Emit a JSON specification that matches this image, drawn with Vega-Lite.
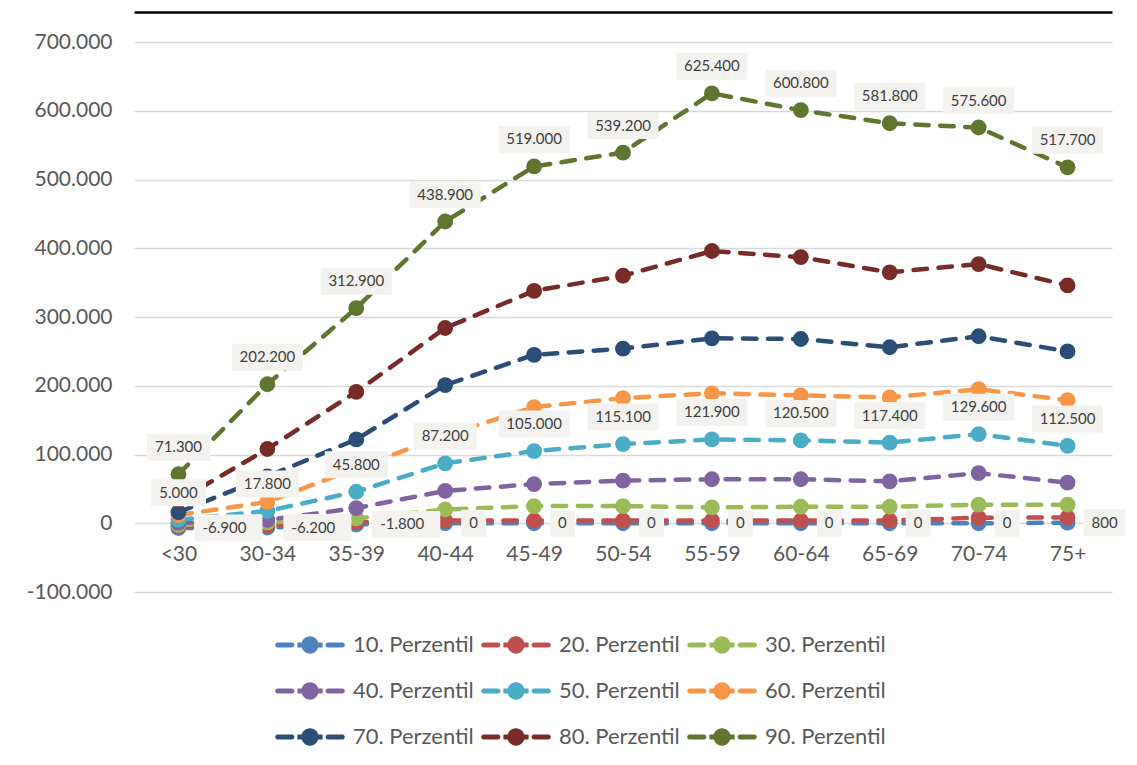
{
  "$schema": "https://vega.github.io/schema/vega-lite/v6.json",
  "autosize": "none",
  "width": 978,
  "height": 550,
  "padding": {"left": 134, "top": 42, "right": 25, "bottom": 173},
  "background": "#ffffff",
  "config": {
    "locale": {"number": {"decimal": ",", "thousands": ".", "grouping": [3], "currency": ["", " €"], "minus": "-"}},
    "font": "Lato",
    "view": {"stroke": null}
  },
  "resolve": {"axis": {"x": "independent"}},
  "data": {"values": [
    {"a":"<30","p":"10. Perzentil","v":-6900},{"a":"30-34","p":"10. Perzentil","v":-6200},{"a":"35-39","p":"10. Perzentil","v":-1800},{"a":"40-44","p":"10. Perzentil","v":0},{"a":"45-49","p":"10. Perzentil","v":0},{"a":"50-54","p":"10. Perzentil","v":0},{"a":"55-59","p":"10. Perzentil","v":0},{"a":"60-64","p":"10. Perzentil","v":0},{"a":"65-69","p":"10. Perzentil","v":0},{"a":"70-74","p":"10. Perzentil","v":0},{"a":"75+","p":"10. Perzentil","v":800},
    {"a":"<30","p":"20. Perzentil","v":-4500},{"a":"30-34","p":"20. Perzentil","v":-3000},{"a":"35-39","p":"20. Perzentil","v":1500},{"a":"40-44","p":"20. Perzentil","v":4000},{"a":"45-49","p":"20. Perzentil","v":4000},{"a":"50-54","p":"20. Perzentil","v":4000},{"a":"55-59","p":"20. Perzentil","v":4000},{"a":"60-64","p":"20. Perzentil","v":4000},{"a":"65-69","p":"20. Perzentil","v":4000},{"a":"70-74","p":"20. Perzentil","v":8000},{"a":"75+","p":"20. Perzentil","v":8500},
    {"a":"<30","p":"30. Perzentil","v":-2500},{"a":"30-34","p":"30. Perzentil","v":1000},{"a":"35-39","p":"30. Perzentil","v":7000},{"a":"40-44","p":"30. Perzentil","v":20000},{"a":"45-49","p":"30. Perzentil","v":25000},{"a":"50-54","p":"30. Perzentil","v":25000},{"a":"55-59","p":"30. Perzentil","v":23000},{"a":"60-64","p":"30. Perzentil","v":24000},{"a":"65-69","p":"30. Perzentil","v":24000},{"a":"70-74","p":"30. Perzentil","v":27000},{"a":"75+","p":"30. Perzentil","v":27000},
    {"a":"<30","p":"40. Perzentil","v":500},{"a":"30-34","p":"40. Perzentil","v":5000},{"a":"35-39","p":"40. Perzentil","v":22000},{"a":"40-44","p":"40. Perzentil","v":47000},{"a":"45-49","p":"40. Perzentil","v":57000},{"a":"50-54","p":"40. Perzentil","v":62000},{"a":"55-59","p":"40. Perzentil","v":64000},{"a":"60-64","p":"40. Perzentil","v":64000},{"a":"65-69","p":"40. Perzentil","v":61000},{"a":"70-74","p":"40. Perzentil","v":73000},{"a":"75+","p":"40. Perzentil","v":59000},
    {"a":"<30","p":"50. Perzentil","v":5000},{"a":"30-34","p":"50. Perzentil","v":17800},{"a":"35-39","p":"50. Perzentil","v":45800},{"a":"40-44","p":"50. Perzentil","v":87200},{"a":"45-49","p":"50. Perzentil","v":105000},{"a":"50-54","p":"50. Perzentil","v":115100},{"a":"55-59","p":"50. Perzentil","v":121900},{"a":"60-64","p":"50. Perzentil","v":120500},{"a":"65-69","p":"50. Perzentil","v":117400},{"a":"70-74","p":"50. Perzentil","v":129600},{"a":"75+","p":"50. Perzentil","v":112500},
    {"a":"<30","p":"60. Perzentil","v":12000},{"a":"30-34","p":"60. Perzentil","v":31000},{"a":"35-39","p":"60. Perzentil","v":80000},{"a":"40-44","p":"60. Perzentil","v":128000},{"a":"45-49","p":"60. Perzentil","v":169000},{"a":"50-54","p":"60. Perzentil","v":182000},{"a":"55-59","p":"60. Perzentil","v":189000},{"a":"60-64","p":"60. Perzentil","v":186000},{"a":"65-69","p":"60. Perzentil","v":183000},{"a":"70-74","p":"60. Perzentil","v":195000},{"a":"75+","p":"60. Perzentil","v":179000},
    {"a":"<30","p":"70. Perzentil","v":16000},{"a":"30-34","p":"70. Perzentil","v":68000},{"a":"35-39","p":"70. Perzentil","v":122000},{"a":"40-44","p":"70. Perzentil","v":201000},{"a":"45-49","p":"70. Perzentil","v":245000},{"a":"50-54","p":"70. Perzentil","v":254000},{"a":"55-59","p":"70. Perzentil","v":269000},{"a":"60-64","p":"70. Perzentil","v":268000},{"a":"65-69","p":"70. Perzentil","v":256000},{"a":"70-74","p":"70. Perzentil","v":272000},{"a":"75+","p":"70. Perzentil","v":250000},
    {"a":"<30","p":"80. Perzentil","v":33000},{"a":"30-34","p":"80. Perzentil","v":108000},{"a":"35-39","p":"80. Perzentil","v":191000},{"a":"40-44","p":"80. Perzentil","v":284000},{"a":"45-49","p":"80. Perzentil","v":338000},{"a":"50-54","p":"80. Perzentil","v":360000},{"a":"55-59","p":"80. Perzentil","v":396000},{"a":"60-64","p":"80. Perzentil","v":387000},{"a":"65-69","p":"80. Perzentil","v":365000},{"a":"70-74","p":"80. Perzentil","v":377000},{"a":"75+","p":"80. Perzentil","v":346000},
    {"a":"<30","p":"90. Perzentil","v":71300},{"a":"30-34","p":"90. Perzentil","v":202200},{"a":"35-39","p":"90. Perzentil","v":312900},{"a":"40-44","p":"90. Perzentil","v":438900},{"a":"45-49","p":"90. Perzentil","v":519000},{"a":"50-54","p":"90. Perzentil","v":539200},{"a":"55-59","p":"90. Perzentil","v":625400},{"a":"60-64","p":"90. Perzentil","v":600800},{"a":"65-69","p":"90. Perzentil","v":581800},{"a":"70-74","p":"90. Perzentil","v":575600},{"a":"75+","p":"90. Perzentil","v":517700}
  ]},
  "encoding": {
    "x": {
      "field": "a", "type": "nominal",
      "scale": {"type": "point", "padding": 0.5, "domain": ["<30","30-34","35-39","40-44","45-49","50-54","55-59","60-64","65-69","70-74","75+"]},
      "axis": null
    },
    "y": {
      "field": "v", "type": "quantitative",
      "scale": {"domain": [-100000, 700000], "nice": false, "zero": false},
      "axis": {"title": null, "values": [-100000,0,100000,200000,300000,400000,500000,600000,700000], "format": ",.0f", "domain": false, "ticks": false, "grid": true, "gridColor": "#D9D9D9", "gridWidth": 1.5, "labelPadding": 22, "labelFont": "Lato", "labelFontSize": 21, "labelColor": "#595959"}
    },
    "color": {"field": "p", "type": "nominal",
      "scale": {"domain": ["10. Perzentil","20. Perzentil","30. Perzentil","40. Perzentil","50. Perzentil","60. Perzentil","70. Perzentil","80. Perzentil","90. Perzentil"],
                "range": ["#4F81BD","#C0504D","#9BBB59","#8064A2","#4BACC6","#F79646","#2C4D75","#772C2A","#5F7530"]},
      "legend": {
        "title": null, "orient": "none", "direction": "horizontal", "legendX": 164, "legendY": 591, "columns": 3,
        "columnPadding": 7, "rowPadding": 23, "labelOffset": 31,
        "labelFont": "Lato", "labelFontSize": 22, "labelColor": "#595959",
        "symbolSize": 576, "symbolStrokeWidth": 0, "symbolOpacity": 1,
        "symbolType": "M-2.7,-0.2H-1.5A0.2,0.2 0 0 1 -1.5,0.2H-2.7A0.2,0.2 0 0 1 -2.7,-0.2Z M0.72,0A0.72,0.72 0 1 1 -0.72,0A0.72,0.72 0 1 1 0.72,0Z M-1.05,-0.2H1.05V0.2H-1.05Z M1.5,-0.2H2.7A0.2,0.2 0 0 1 2.7,0.2H1.5A0.2,0.2 0 0 1 1.5,-0.2Z",
        "encode": {"symbols": {"update": {
          "shape": {"value": "M-2.7,-0.2H-1.5A0.2,0.2 0 0 1 -1.5,0.2H-2.7A0.2,0.2 0 0 1 -2.7,-0.2Z M0.72,0A0.72,0.72 0 1 1 -0.72,0A0.72,0.72 0 1 1 0.72,0Z M-1.05,-0.2H1.05V0.2H-1.05Z M1.5,-0.2H2.7A0.2,0.2 0 0 1 2.7,0.2H1.5A0.2,0.2 0 0 1 1.5,-0.2Z"},
          "size": {"value": 576},
          "fill": {"scale": "color", "field": "value"},
          "stroke": {"value": "transparent"},
          "strokeWidth": {"value": 0},
          "strokeDash": {"value": []},
          "opacity": {"value": 1}
        }}}
      }
    }
  },
  "layer": [
    {
      "mark": {"type": "line", "strokeWidth": 4.5, "strokeDash": [13.5, 11.5], "strokeCap": "round"},
      "encoding": {
        "x": {
          "field": "a", "type": "nominal",
          "axis": {"title": null, "orient": "bottom", "offset": -68.75, "domain": false, "ticks": false, "grid": false, "labelAngle": 0, "labelPadding": 20, "labelFont": "Lato", "labelFontSize": 21, "labelFontWeight": "normal", "labelColor": "#595959"}
        }
      }
    },
    {
      "mark": {"type": "point", "filled": true, "size": 250, "shape": "circle", "opacity": 1, "strokeWidth": 0}
    },
    {
      "transform": [{"filter": "(datum.p == '90. Perzentil' || datum.p == '50. Perzentil') && datum.v >= 100000"}],
      "mark": {"type": "point", "filled": true, "opacity": 1, "strokeWidth": 0, "size": 400, "shape": "M-3.55,-4.05H3.55V-1.35H-3.55Z"},
      "encoding": {"color": {"value": "#F3F2EE"}}
    },
    {
      "transform": [{"filter": "(datum.p == '90. Perzentil' || datum.p == '50. Perzentil') && datum.v >= 10000 && datum.v < 100000"}],
      "mark": {"type": "point", "filled": true, "opacity": 1, "strokeWidth": 0, "size": 400, "shape": "M-3.15,-4.05H3.15V-1.35H-3.15Z"},
      "encoding": {"color": {"value": "#F3F2EE"}}
    },
    {
      "transform": [{"filter": "(datum.p == '90. Perzentil' || datum.p == '50. Perzentil') && datum.v < 10000"}],
      "mark": {"type": "point", "filled": true, "opacity": 1, "strokeWidth": 0, "size": 400, "shape": "M-2.75,-4.05H2.75V-1.35H-2.75Z"},
      "encoding": {"color": {"value": "#F3F2EE"}}
    },
    {
      "transform": [{"filter": "datum.p == '10. Perzentil' && datum.v < 0"}],
      "mark": {"type": "point", "filled": true, "opacity": 1, "strokeWidth": 0, "size": 400, "shape": "M1.6,-1.35H8.4V1.35H1.6Z"},
      "encoding": {"color": {"value": "#F3F2EE"}}
    },
    {
      "transform": [{"filter": "datum.p == '10. Perzentil' && datum.v == 0"}],
      "mark": {"type": "point", "filled": true, "opacity": 1, "strokeWidth": 0, "size": 400, "shape": "M1.6,-1.35H4.1V1.35H1.6Z"},
      "encoding": {"color": {"value": "#F3F2EE"}}
    },
    {
      "transform": [{"filter": "datum.p == '10. Perzentil' && datum.v > 0"}],
      "mark": {"type": "point", "filled": true, "opacity": 1, "strokeWidth": 0, "size": 400, "shape": "M1.6,-1.35H5.8V1.35H1.6Z"},
      "encoding": {"color": {"value": "#F3F2EE"}}
    },
    {
      "transform": [{"filter": "datum.p == '90. Perzentil' || datum.p == '50. Perzentil'"}],
      "mark": {"type": "text", "dy": -27, "baseline": "middle", "align": "center", "font": "Lato", "fontSize": 15},
      "encoding": {
        "color": {"value": "#404040"},
        "text": {"field": "v", "type": "quantitative", "format": ",.0f"},
        "x": {
          "field": "a", "type": "nominal",
          "axis": {"title": null, "orient": "top", "offset": 30, "domain": true, "domainColor": "#000000", "domainWidth": 2.5, "ticks": false, "labels": false, "grid": false}
        }
      }
    },
    {
      "transform": [{"filter": "datum.p == '10. Perzentil'"}],
      "mark": {"type": "text", "dx": 24, "baseline": "middle", "align": "left", "font": "Lato", "fontSize": 15},
      "encoding": {
        "color": {"value": "#404040"},
        "text": {"field": "v", "type": "quantitative", "format": ",.0f"}
      }
    }
  ]
}
